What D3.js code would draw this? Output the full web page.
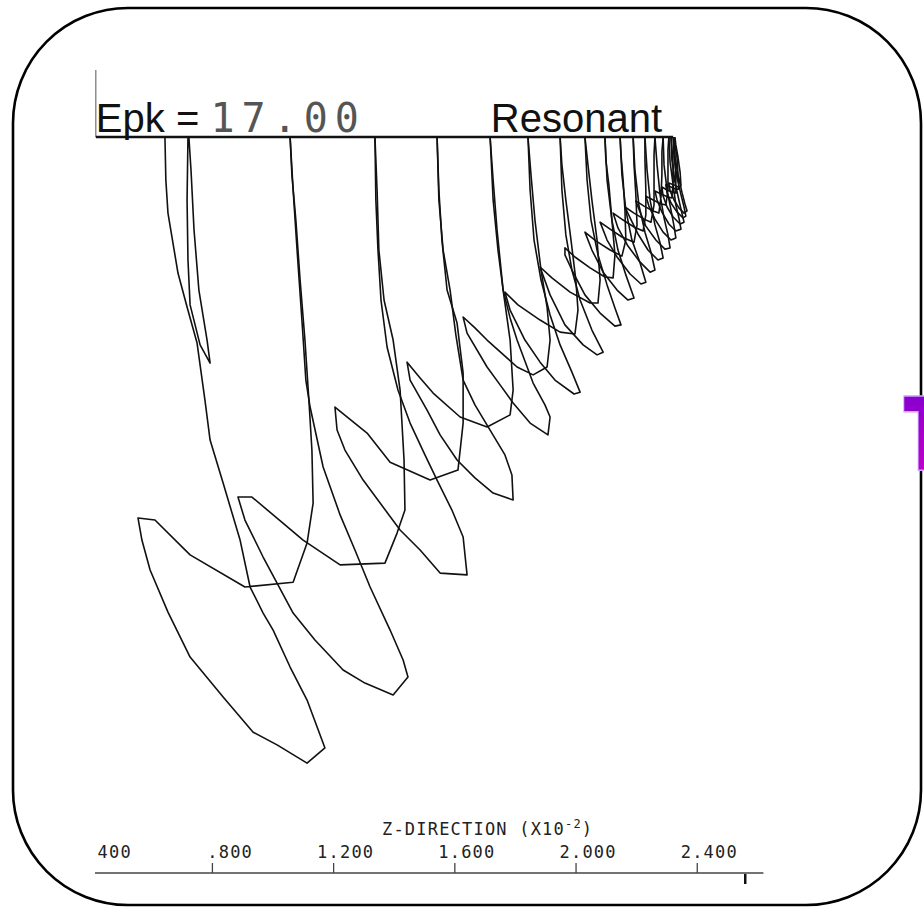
<!DOCTYPE html>
<html>
<head>
<meta charset="utf-8">
<script src="https://cdn.jsdelivr.net/npm/d3@7/dist/d3.min.js"></script>
<style>
  body { margin: 0; background: #fff; }
  svg { display: block; }
</style>
</head>
<body>
<div id="content"></div>
<script>
// axis ticks (Z-direction, x10^-2)
var zTicks = [0.4, 0.8, 1.2, 1.6, 2.0, 2.4];

// electron trajectory, one array per flight between wall impacts: [z, r]
var needle = [[0.721,0],[0.718,0.208],[0.721,0.406],[0.728,0.554],[0.761,0.686],[0.794,0.746],[0.784,0.670],[0.757,0.505],[0.741,0.307],[0.731,0.109],[0.724,0]];
var traj01 = [[0.645,0],[0.648,0.142],[0.655,0.251],[0.688,0.449],[0.718,0.561],[0.751,0.680],[0.777,0.868],[0.794,1.000],[0.837,1.142],[0.893,1.330],[0.926,1.485],[0.969,1.571],[1.002,1.627],[1.058,1.749],[1.114,1.858],[1.173,2.016],[1.114,2.066],[1.015,2.006],[0.936,1.964],[0.837,1.848],[0.728,1.716],[0.655,1.568],[0.596,1.429],[0.569,1.330],[0.556,1.257],[0.612,1.264],[0.728,1.379],[0.909,1.485],[1.068,1.469],[1.114,1.340],[1.134,1.208],[1.130,1.033],[1.120,0.868],[1.107,0.670],[1.091,0.472],[1.077,0.274],[1.064,0.125],[1.058,0]];
var traj02 = [[1.058,0],[1.068,0.175],[1.081,0.373],[1.097,0.604],[1.110,0.802],[1.124,0.891],[1.167,1.089],[1.223,1.247],[1.272,1.363],[1.322,1.485],[1.388,1.627],[1.431,1.726],[1.447,1.782],[1.398,1.841],[1.305,1.802],[1.233,1.759],[1.140,1.660],[1.068,1.571],[0.969,1.386],[0.909,1.264],[0.886,1.188],[0.932,1.188],[1.101,1.330],[1.223,1.412],[1.371,1.406],[1.411,1.307],[1.437,1.231],[1.434,1.066],[1.421,0.835],[1.398,0.670],[1.368,0.538],[1.351,0.373],[1.345,0.175],[1.338,0]];
var traj03 = [[1.338,0],[1.341,0.208],[1.348,0.373],[1.358,0.538],[1.378,0.693],[1.414,0.835],[1.454,0.944],[1.503,1.049],[1.543,1.132],[1.592,1.231],[1.629,1.320],[1.642,1.445],[1.553,1.439],[1.487,1.363],[1.421,1.297],[1.299,1.132],[1.239,1.033],[1.213,0.967],[1.206,0.891],[1.312,0.977],[1.388,1.073],[1.520,1.132],[1.612,1.099],[1.629,0.944],[1.629,0.779],[1.609,0.614],[1.576,0.505],[1.559,0.340],[1.549,0.175],[1.543,0]];
var traj04 = [[1.543,0],[1.549,0.208],[1.563,0.373],[1.586,0.505],[1.605,0.653],[1.629,0.802],[1.668,0.884],[1.718,0.967],[1.767,1.049],[1.790,1.115],[1.794,1.198],[1.728,1.175],[1.668,1.125],[1.609,1.066],[1.553,0.983],[1.510,0.901],[1.454,0.802],[1.444,0.743],[1.487,0.795],[1.530,0.845],[1.619,0.924],[1.708,0.957],[1.784,0.917],[1.794,0.835],[1.784,0.670],[1.761,0.505],[1.741,0.307],[1.728,0.142],[1.718,0]];
var traj05 = [[1.718,0],[1.728,0.208],[1.744,0.373],[1.761,0.505],[1.784,0.597],[1.807,0.670],[1.860,0.812],[1.899,0.884],[1.916,0.924],[1.909,0.983],[1.850,0.944],[1.794,0.878],[1.751,0.818],[1.708,0.759],[1.642,0.647],[1.629,0.594],[1.668,0.630],[1.708,0.670],[1.807,0.759],[1.860,0.785],[1.906,0.759],[1.916,0.670],[1.906,0.561],[1.886,0.439],[1.866,0.274],[1.853,0.125],[1.843,0]];
var traj06 = [[1.843,0],[1.850,0.175],[1.863,0.340],[1.886,0.472],[1.916,0.587],[1.949,0.686],[1.988,0.776],[2.015,0.842],[1.995,0.848],[1.932,0.802],[1.883,0.743],[1.833,0.670],[1.784,0.571],[1.767,0.512],[1.810,0.554],[1.883,0.604],[1.949,0.644],[1.998,0.650],[2.008,0.571],[2.001,0.472],[1.985,0.340],[1.968,0.208],[1.955,0.092],[1.949,0]];
var traj07 = [[1.949,0],[1.955,0.175],[1.968,0.323],[1.988,0.439],[2.015,0.538],[2.054,0.637],[2.091,0.710],[2.071,0.719],[2.025,0.686],[1.965,0.620],[1.916,0.521],[1.889,0.446],[1.883,0.429],[1.922,0.465],[1.982,0.512],[2.048,0.548],[2.074,0.548],[2.081,0.472],[2.071,0.340],[2.054,0.208],[2.041,0.092],[2.031,0]];
var traj08 = [[2.031,0],[2.038,0.142],[2.051,0.274],[2.074,0.389],[2.104,0.488],[2.130,0.564],[2.150,0.620],[2.130,0.624],[2.081,0.581],[2.031,0.521],[1.988,0.439],[1.965,0.389],[1.965,0.366],[1.998,0.396],[2.048,0.432],[2.097,0.462],[2.124,0.465],[2.130,0.389],[2.120,0.274],[2.110,0.158],[2.100,0.076],[2.097,0]];
var traj09 = [[2.097,0],[2.104,0.142],[2.120,0.274],[2.140,0.373],[2.166,0.455],[2.193,0.531],[2.173,0.538],[2.137,0.505],[2.091,0.446],[2.054,0.373],[2.031,0.314],[2.067,0.343],[2.114,0.373],[2.153,0.393],[2.166,0.340],[2.163,0.241],[2.157,0.142],[2.150,0.059],[2.147,0]];
var traj10 = [[2.147,0],[2.153,0.125],[2.166,0.241],[2.186,0.340],[2.213,0.416],[2.232,0.479],[2.216,0.485],[2.180,0.452],[2.137,0.396],[2.104,0.340],[2.081,0.281],[2.114,0.304],[2.153,0.330],[2.193,0.347],[2.203,0.290],[2.199,0.191],[2.193,0.092],[2.190,0]];
var traj11 = [[2.190,0],[2.196,0.109],[2.209,0.224],[2.229,0.314],[2.249,0.380],[2.262,0.439],[2.246,0.446],[2.213,0.413],[2.173,0.360],[2.140,0.300],[2.124,0.251],[2.157,0.274],[2.193,0.297],[2.223,0.310],[2.232,0.257],[2.232,0.175],[2.229,0.076],[2.229,0]];
var traj12 = [[2.229,0],[2.236,0.109],[2.246,0.208],[2.262,0.290],[2.279,0.350],[2.289,0.399],[2.272,0.406],[2.239,0.373],[2.206,0.320],[2.180,0.267],[2.163,0.231],[2.193,0.251],[2.226,0.271],[2.249,0.281],[2.259,0.224],[2.259,0.142],[2.259,0.059],[2.262,0]];
var traj13 = [[2.262,0],[2.269,0.092],[2.279,0.191],[2.292,0.267],[2.305,0.323],[2.312,0.366],[2.295,0.370],[2.265,0.340],[2.232,0.294],[2.213,0.248],[2.199,0.211],[2.226,0.228],[2.256,0.244],[2.275,0.251],[2.282,0.198],[2.285,0.125],[2.285,0.050],[2.289,0]];
var traj14 = [[2.289,0],[2.292,0.092],[2.302,0.175],[2.315,0.241],[2.325,0.294],[2.331,0.333],[2.315,0.340],[2.289,0.314],[2.262,0.271],[2.242,0.228],[2.232,0.195],[2.256,0.208],[2.282,0.221],[2.298,0.224],[2.305,0.175],[2.305,0.109],[2.305,0.043],[2.308,0]];
var traj15 = [[2.308,0],[2.312,0.083],[2.322,0.158],[2.331,0.224],[2.341,0.267],[2.348,0.304],[2.331,0.310],[2.308,0.287],[2.285,0.248],[2.269,0.208],[2.262,0.178],[2.282,0.188],[2.305,0.198],[2.318,0.201],[2.322,0.152],[2.322,0.092],[2.318,0.036],[2.315,0]];
var traj16 = [[2.315,0],[2.318,0.076],[2.328,0.149],[2.341,0.208],[2.351,0.251],[2.358,0.281],[2.345,0.287],[2.322,0.264],[2.302,0.231],[2.289,0.195],[2.285,0.165],[2.302,0.175],[2.322,0.182],[2.331,0.185],[2.331,0.135],[2.328,0.076],[2.325,0.026],[2.322,0]];
var traj17 = [[2.322,0],[2.325,0.069],[2.335,0.135],[2.348,0.191],[2.358,0.231],[2.364,0.261],[2.355,0.267],[2.335,0.248],[2.315,0.218],[2.302,0.185],[2.298,0.158],[2.315,0.165],[2.331,0.172],[2.341,0.172],[2.338,0.125],[2.335,0.069],[2.328,0.026],[2.325,0]];
var traj18 = [[2.325,0],[2.328,0.063],[2.338,0.125],[2.351,0.182],[2.361,0.221],[2.368,0.244],[2.358,0.251],[2.341,0.234],[2.325,0.208],[2.312,0.178],[2.308,0.152],[2.325,0.158],[2.338,0.165],[2.348,0.162],[2.345,0.116],[2.338,0.066],[2.331,0.026],[2.328,0]];

var trajectories = [needle, traj01, traj02, traj03, traj04, traj05, traj06, traj07, traj08, traj09,
                    traj10, traj11, traj12, traj13, traj14, traj15, traj16, traj17, traj18];

var W = 924, H = 908;
var mono = "'DejaVu Sans Mono', monospace";

var svg = d3.select("#content").append("svg").attr("width", W).attr("height", H);

// scales: z along the wall, r = depth below the wall (same units)
var x = d3.scaleLinear().domain([0.4, 2.4]).range([90.7, 696.76]);
var y = d3.scaleLinear().domain([0, 2.43]).range([137, 873.4]);

// rounded frame
svg.append("rect").attr("x", 13).attr("y", 8).attr("width", 908).attr("height", 897)
  .attr("rx", 115).attr("ry", 115)
  .style("fill", "none").style("stroke", "#000").style("stroke-width", 2.6);

// wall line + small vertical marker
svg.append("line").attr("x1", x(0.417)).attr("x2", x(0.417)).attr("y1", y(-0.221)).attr("y2", y(0))
  .style("stroke", "#555").style("stroke-width", 1);
svg.append("line").attr("x1", x(0.417)).attr("x2", x(2.322)).attr("y1", y(0)).attr("y2", y(0))
  .style("stroke", "#111").style("stroke-width", 2.4);

// title texts
svg.append("text").attr("x", x(0.417)).attr("y", 132).text("Epk =")
  .style("font-family", "'Liberation Sans', Arial, sans-serif").style("font-size", "40px").style("fill", "#111");
svg.append("text").attr("x", 210.5).attr("y", 132).text("17.00")
  .style("font-family", mono).style("font-size", "40px").style("letter-spacing", "7px").style("fill", "#555");
svg.append("text").attr("x", 662).attr("y", 132).attr("text-anchor", "end").text("Resonant")
  .style("font-family", "'Liberation Sans', Arial, sans-serif").style("font-size", "40px").style("fill", "#111");

// trajectories
var line = d3.line().x(function(d) { return x(d[0]); }).y(function(d) { return y(d[1]); });
svg.append("g").attr("class", "traj").selectAll("path")
  .data(trajectories)
  .enter().append("path")
  .attr("d", line)
  .style("fill", "none").style("stroke", "#111").style("stroke-width", 1.6)
  .style("stroke-linejoin", "round");

// bottom axis (ticks point up, labels above, decimal point on the tick)
svg.append("clipPath").attr("id", "axclip").append("rect")
  .attr("x", 95).attr("y", 800).attr("width", 700).attr("height", 100);

var axisY = 873;
var adv = 11.44;
var fmt = function(d) { return d3.format(".3f")(d).replace(/^0/, ""); };
var gAxis = svg.append("g").attr("clip-path", "url(#axclip)")
  .append("g").attr("transform", "translate(0," + axisY + ")")
  .call(d3.axisTop(x).tickValues(zTicks).tickFormat(fmt).tickSizeInner(10).tickSizeOuter(0).tickPadding(5));
gAxis.select(".domain").remove();
gAxis.selectAll(".tick line").style("stroke", "#444").style("stroke-width", 1.3);
gAxis.selectAll(".tick text")
  .attr("text-anchor", "start")
  .attr("x", function(d) { return -(fmt(d).indexOf(".") * adv + 5.1); })
  .style("font-family", mono).style("font-size", "17px").style("letter-spacing", "1.2px").style("fill", "#222");
gAxis.append("line").attr("x1", x(0.41)).attr("x2", x(2.62)).attr("y1", 0).attr("y2", 0)
  .style("stroke", "#444").style("stroke-width", 1.5);
svg.append("line").attr("x1", x(2.56)).attr("x2", x(2.56)).attr("y1", axisY + 1).attr("y2", axisY + 11)
  .style("stroke", "#111").style("stroke-width", 2.5);

// axis title
var title = svg.append("text").attr("x", 382).attr("y", 835)
  .style("font-family", mono).style("font-size", "17px").style("letter-spacing", "1.2px").style("fill", "#222");
title.append("tspan").text("Z-DIRECTION (X10");
title.append("tspan").attr("dy", -7).style("font-size", "12px").text("-2");
title.append("tspan").attr("dy", 7).text(")");

// purple letter cut by the right edge
var defs = svg.append("defs");
var grad = defs.append("linearGradient").attr("id", "tgrad")
  .attr("x1", "0%").attr("y1", "0%").attr("x2", "0%").attr("y2", "100%");
grad.append("stop").attr("offset", "0%").attr("stop-color", "#7a00d0");
grad.append("stop").attr("offset", "100%").attr("stop-color", "#d400c8");
svg.append("text").attr("transform", "translate(904,470) scale(0.6,1)").text("T")
  .style("font-family", "'DejaVu Sans', sans-serif").style("font-weight", "bold").style("font-size", "99px")
  .style("fill", "url(#tgrad)").style("stroke", "#c9a6ff").style("stroke-width", 3)
  .style("paint-order", "stroke");
</script>
</body>
</html>
